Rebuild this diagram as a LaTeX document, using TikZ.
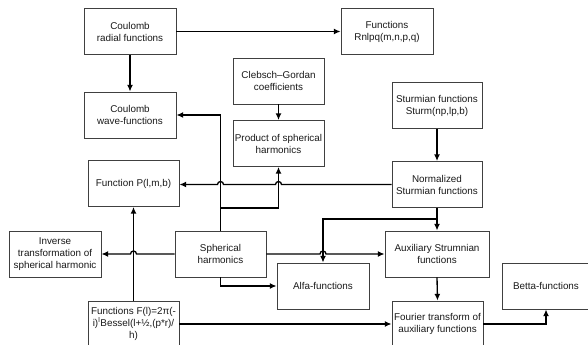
\documentclass[tikz,border=0pt]{standalone}
\usepackage{fontspec}
\setmainfont{Liberation Sans}
\usetikzlibrary{arrows.meta,calc}
\definecolor{boxline}{HTML}{404040}
\definecolor{txt}{HTML}{1A1A1A}
\begin{document}
\begin{tikzpicture}[x=0.75pt,y=-0.75pt,
  box/.style={draw=boxline,line width=0.7pt,fill=white,align=center,inner sep=1pt,
    font=\fontsize{7.4pt}{9pt}\selectfont,text=txt,minimum height=34.5pt},
  conn/.style={line width=1pt,black},
  arr/.style={conn,-{Latex[length=5pt,width=4.5pt]}}]
\clip (0,0) rectangle (588,345);
\fill[white] (0,0) rectangle (588,345);
% nodes
\node[box,minimum width=69pt] (crf) at (130,31.5) {Coulomb\\radial functions};
\node[box,minimum width=69pt] (rnl) at (387,31.5) {Functions\\Rnlpq(m,n,p,q)};
\node[box,minimum width=69pt] (cwf) at (130,115) {Coulomb\\wave-functions};
\node[box,minimum width=68.25pt] (cg) at (278.5,81) {Clebsch–Gordan\\coefficients};
\node[box,minimum width=68.25pt] (psh) at (278.5,143.5) {Product of spherical\\harmonics};
\node[box,minimum width=67.5pt] (stu) at (437,105.5) {Sturmian functions\\Sturm(np,lp,b)};
\node[box,minimum width=67.5pt] (ns) at (437,184.5) {Normalized\\Sturmian functions};
\node[box,minimum width=68.25pt] (pf) at (133.5,183.5) {Function P(l,m,b)};
\node[box,minimum width=68.25pt] (sh) at (220.5,254) {Spherical\\harmonics};
\node[box,minimum width=69pt] (inv) at (55,254) {Inverse\\transformation of\\spherical harmonic};
\node[box,minimum width=78pt] (aux) at (437,254) {Auxiliary Strumnian\\functions};
\node[box,minimum width=69pt] (alfa) at (323,286) {Alfa-functions};
\node[box,minimum width=68.25pt] (fl) at (133.5,324) {Functions F(l)=2π(-\\i)\textsuperscript{l}Bessel(l+½,(p*r)/\\h)};
\node[box,minimum width=68.25pt] (ft) at (437.5,324) {Fourier transform of\\auxiliary functions};
\node[box,minimum width=66pt] (bet) at (546,286) {Betta-functions};
% helper coordinates
\coordinate (j1) at (220.5,208);
\coordinate (j2) at (437,219);
% connectors
\draw[arr] (crf.east) -- (rnl.west);
\draw[arr] (crf.south) -- (cwf.north);
\draw[arr] (cg.south) -- (psh.north);
\draw[arr] (stu.south) -- (ns.north);
\draw[arr] (sh.north) |- (cwf.east);
\draw[arr] (j1) -| (psh.south);
\draw[arr] (ns.west) -- ($(psh.south |- ns.west)+(3,0)$)
  arc[start angle=0,end angle=180,radius=2.25pt]
  -- ($(sh.north |- ns.west)+(3,0)$)
  arc[start angle=0,end angle=180,radius=2.25pt]
  -- (pf.east |- ns.west);
\draw[arr] (fl.north) -- (pf.south);
\draw[arr] (sh.west) -- ($(fl.north |- sh.west)+(3,0)$)
  arc[start angle=0,end angle=180,radius=2.25pt] -- (inv.east);
\draw[arr] (sh.east) -- ($(alfa.north |- sh.east)+(-3,0)$)
  arc[start angle=180,end angle=0,radius=2.25pt] -- (aux.west);
\draw[arr] (sh.south) |- (alfa.west);
\draw[arr] (ns.south) -- (aux.north);
\draw[arr] (j2) -| (alfa.north);
\draw[arr] (aux.south) -- (ft.north);
\draw[arr] (fl.east) -- (ft.west);
\draw[arr] (ft.east) -| (bet.south);
\end{tikzpicture}
\end{document}
